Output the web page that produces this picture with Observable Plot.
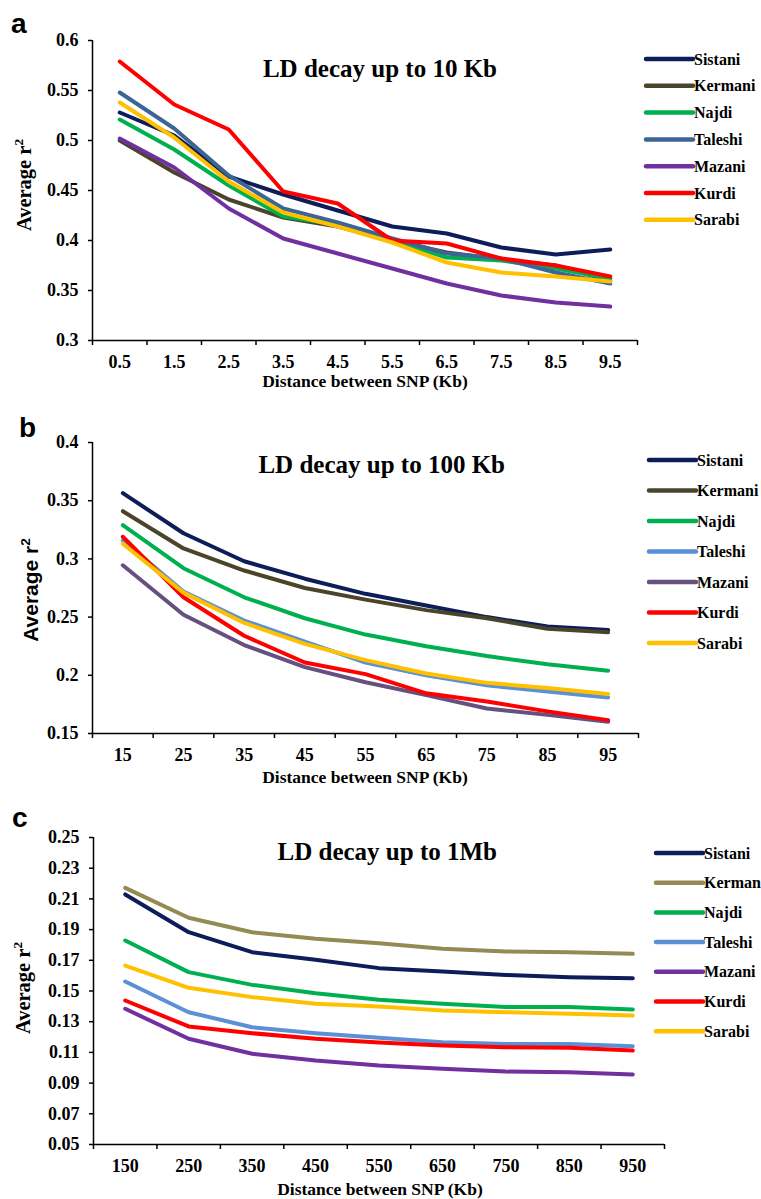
<!DOCTYPE html>
<html>
<head>
<meta charset="utf-8">
<script src="https://cdn.jsdelivr.net/npm/d3@7"></script>
<script src="https://cdn.jsdelivr.net/npm/@observablehq/plot@0.6"></script>
<style>
  html, body { margin: 0; padding: 0; background: #fff; }
  #fig { position: relative; width: 761px; height: 1199px; overflow: hidden; background: #fff; }
  #fig > svg { position: absolute; left: 0; }
</style>
</head>
<body>
<div id="fig"></div>
<script>
// ---------- DATA ----------
const populations = ["Sistani", "Kermani", "Najdi", "Taleshi", "Mazani", "Kurdi", "Sarabi"];
const legendLabelsC = ["Sistani", "Kerman", "Najdi", "Taleshi", "Mazani", "Kurdi", "Sarabi"];

// Panel a: LD decay up to 10 Kb
const distA = [0.5, 1.5, 2.5, 3.5, 4.5, 5.5, 6.5, 7.5, 8.5, 9.5];
const boundsA = [0, 1, 2, 3, 4, 5, 6, 7, 8, 9, 10];
const yTicksA = [0.3, 0.35, 0.4, 0.45, 0.5, 0.55, 0.6];
const sistaniA = [0.528, 0.505, 0.464, 0.446, 0.430, 0.414, 0.407, 0.393, 0.386, 0.391];
const kermaniA = [0.500, 0.468, 0.441, 0.423, 0.414, 0.400, 0.388, 0.381, 0.375, 0.360];
const najdiA   = [0.521, 0.491, 0.455, 0.424, 0.416, 0.400, 0.383, 0.380, 0.372, 0.362];
const taleshiA = [0.548, 0.512, 0.465, 0.432, 0.418, 0.402, 0.387, 0.382, 0.368, 0.357];
const mazaniA  = [0.502, 0.473, 0.432, 0.402, 0.387, 0.372, 0.357, 0.345, 0.338, 0.334];
const kurdiA   = [0.579, 0.536, 0.511, 0.449, 0.437, 0.400, 0.397, 0.382, 0.375, 0.364];
const sarabiA  = [0.538, 0.503, 0.459, 0.428, 0.414, 0.398, 0.378, 0.368, 0.364, 0.359];
const colorsA = ["#0d1d5a", "#4a452a", "#00b050", "#3b6596", "#7030a0", "#ff0000", "#ffc000"];

// Panel b: LD decay up to 100 Kb
const distB = [15, 25, 35, 45, 55, 65, 75, 85, 95];
const boundsB = [10, 20, 30, 40, 50, 60, 70, 80, 90, 100];
const yTicksB = [0.15, 0.2, 0.25, 0.3, 0.35, 0.4];
const sistaniB = [0.3565, 0.322, 0.298, 0.283, 0.270, 0.260, 0.250, 0.242, 0.239];
const kermaniB = [0.341, 0.309, 0.290, 0.275, 0.265, 0.256, 0.249, 0.240, 0.237];
const najdiB   = [0.329, 0.292, 0.267, 0.249, 0.235, 0.225, 0.2165, 0.2095, 0.204];
const taleshiB = [0.316, 0.272, 0.247, 0.229, 0.211, 0.200, 0.1915, 0.186, 0.181];
const mazaniB  = [0.2945, 0.252, 0.226, 0.207, 0.194, 0.183, 0.1715, 0.166, 0.160];
const kurdiB   = [0.319, 0.267, 0.234, 0.211, 0.201, 0.1845, 0.1775, 0.169, 0.1615];
const sarabiB  = [0.313, 0.271, 0.245, 0.227, 0.213, 0.2015, 0.1935, 0.189, 0.184];
const colorsB = ["#0d1d5a", "#4a452a", "#00b050", "#5b8fd6", "#65507f", "#ff0000", "#ffc000"];

// Panel c: LD decay up to 1Mb
const distC = [150, 250, 350, 450, 550, 650, 750, 850, 950];
const boundsC = [100, 200, 300, 400, 500, 600, 700, 800, 900, 1000];
const yTicksC = [0.05, 0.07, 0.09, 0.11, 0.13, 0.15, 0.17, 0.19, 0.21, 0.23, 0.25];
const sistaniC = [0.2129, 0.1883, 0.1753, 0.1703, 0.1649, 0.1627, 0.1605, 0.1590, 0.1583];
const kermaniC = [0.2172, 0.1977, 0.1883, 0.1840, 0.1811, 0.1775, 0.1757, 0.1753, 0.1742];
const najdiC   = [0.1829, 0.1623, 0.1540, 0.1486, 0.1443, 0.1417, 0.1395, 0.1395, 0.1380];
const taleshiC = [0.1562, 0.1362, 0.1264, 0.1225, 0.1195, 0.1166, 0.1155, 0.1155, 0.1140];
const mazaniC  = [0.1384, 0.1189, 0.1091, 0.1047, 0.1015, 0.0993, 0.0975, 0.0971, 0.0956];
const kurdiC   = [0.1438, 0.1269, 0.1225, 0.1189, 0.1165, 0.1145, 0.1134, 0.1130, 0.1112];
const sarabiC  = [0.1666, 0.1521, 0.1460, 0.1417, 0.1399, 0.1373, 0.1362, 0.1351, 0.1340];
const colorsC = ["#0d1d5a", "#948a54", "#00b050", "#5b8fd6", "#7030a0", "#ff0000", "#ffc000"];

const panelTitles = ["LD decay up to 10 Kb", "LD decay up to 100 Kb", "LD decay up to 1Mb"];
const panelLetters = ["a", "b", "c"];
const xTitle = "Distance between SNP (Kb)";
const yTitle = "Average r";

// ---------- BUILD ----------
function longTable(dist, seriesList) {
  const rows = [];
  seriesList.forEach((vals, i) => {
    vals.forEach((v, j) => rows.push({pop: populations[i], dist: dist[j], r2: v}));
  });
  return rows;
}

const SERIF = "'Liberation Serif', 'Times New Roman', serif";
const SANS = "'Liberation Sans', Arial, sans-serif";
const fmt = d => String(d);

const panels = [
  {top: 0, height: 400, mt: 40, mb: 60, ml: 92, mr: 124,
   dist: distA, bounds: boundsA, yTicks: yTicksA, colors: colorsA, legend: populations,
   series: [sistaniA, kermaniA, najdiA, taleshiA, mazaniA, kurdiA, sarabiA]},
  {top: 400, height: 390, mt: 42, mb: 57, ml: 92, mr: 123,
   dist: distB, bounds: boundsB, yTicks: yTicksB, colors: colorsB, legend: populations,
   series: [sistaniB, kermaniB, najdiB, taleshiB, mazaniB, kurdiB, sarabiB]},
  {top: 790, height: 409, mt: 47, mb: 55, ml: 93, mr: 97,
   dist: distC, bounds: boundsC, yTicks: yTicksC, colors: colorsC, legend: legendLabelsC,
   series: [sistaniC, kermaniC, najdiC, taleshiC, mazaniC, kurdiC, sarabiC]}
];

const fig = document.getElementById("fig");

panels.forEach(p => {
  const data = longTable(p.dist, p.series);
  const xDom = [p.bounds[0], p.bounds[p.bounds.length - 1]];
  const yDom = [p.yTicks[0], p.yTicks[p.yTicks.length - 1]];
  const chart = Plot.plot({
    width: 761,
    height: p.height,
    marginTop: p.mt, marginBottom: p.mb, marginLeft: p.ml, marginRight: p.mr,
    x: {domain: xDom, axis: null},
    y: {domain: yDom, axis: null},
    color: {domain: populations, range: p.colors},
    style: {fontFamily: SERIF, fontWeight: "bold", fontSize: "18px", color: "#000", background: "transparent", overflow: "visible"},
    marks: [
      Plot.axisY(p.yTicks, {tickSize: 4, tickPadding: 10, tickFormat: fmt, label: null, strokeWidth: 1.5}),
      Plot.axisX(p.bounds, {tickSize: 5, tickFormat: () => "", label: null, strokeWidth: 1.5}),
      Plot.axisX(p.dist, {tickSize: 0, tickPadding: 15, tickFormat: fmt, label: null}),
      Plot.ruleX([xDom[0]], {stroke: "#000", strokeWidth: 1.5}),
      Plot.ruleY([yDom[0]], {stroke: "#000", strokeWidth: 1.5}),
      Plot.line(data, {x: "dist", y: "r2", z: "pop", stroke: "pop", strokeWidth: 4, strokeLinejoin: "round", strokeLinecap: "round"})
    ]
  });
  chart.style.top = p.top + "px";
  fig.appendChild(chart);
});

// ---------- ANNOTATIONS (titles, legends) ----------
const ov = d3.select(fig).append("svg")
  .attr("width", 761).attr("height", 1199)
  .style("top", "0px").style("pointer-events", "none");

const ann = [
  {letter: [11, 33], title: [497, 77], xt: [365, 387], yt: [24, 185], ytFont: SERIF, ytSize: 20.5,
   legX: 646, legY0: 59, legDy: 26.8},
  {letter: [19, 437], title: [505, 473], xt: [365, 783], yt: [31, 590], ytFont: SANS, ytSize: 21,
   legX: 649, legY0: 460, legDy: 30.5},
  {letter: [12, 827], title: [497, 860], xt: [380, 1195], yt: [23, 988], ytFont: SERIF, ytSize: 20.5,
   legX: 656, legY0: 853, legDy: 29.7}
];

ann.forEach((a, i) => {
  const p = panels[i];
  ov.append("text").attr("x", a.letter[0]).attr("y", a.letter[1])
    .attr("font-family", SANS).attr("font-weight", "bold").attr("font-size", 28)
    .text(panelLetters[i]);
  ov.append("text").attr("x", a.title[0]).attr("y", a.title[1]).attr("text-anchor", "end")
    .attr("font-family", SERIF).attr("font-weight", "bold").attr("font-size", 25)
    .text(panelTitles[i]);
  ov.append("text").attr("x", a.xt[0]).attr("y", a.xt[1]).attr("text-anchor", "middle")
    .attr("font-family", SERIF).attr("font-weight", "bold").attr("font-size", 17.5)
    .text(xTitle);
  const yt = ov.append("text")
    .attr("transform", `translate(${a.yt[0]},${a.yt[1]}) rotate(-90)`)
    .attr("text-anchor", "middle").attr("dy", "0.35em")
    .attr("font-family", a.ytFont).attr("font-weight", "bold").attr("font-size", a.ytSize);
  yt.append("tspan").text(yTitle);
  yt.append("tspan").attr("font-size", a.ytSize * 0.65).attr("dy", "-0.6em").text("2");
  p.legend.forEach((name, k) => {
    const y = a.legY0 + k * a.legDy;
    ov.append("line").attr("x1", a.legX).attr("x2", a.legX + 47).attr("y1", y).attr("y2", y)
      .attr("stroke", p.colors[k]).attr("stroke-width", 4.5).attr("stroke-linecap", "round");
    ov.append("text").attr("x", a.legX + 48).attr("y", y).attr("dy", "0.35em")
      .attr("font-family", SERIF).attr("font-weight", "bold").attr("font-size", 16)
      .text(name);
  });
});
</script>
</body>
</html>
